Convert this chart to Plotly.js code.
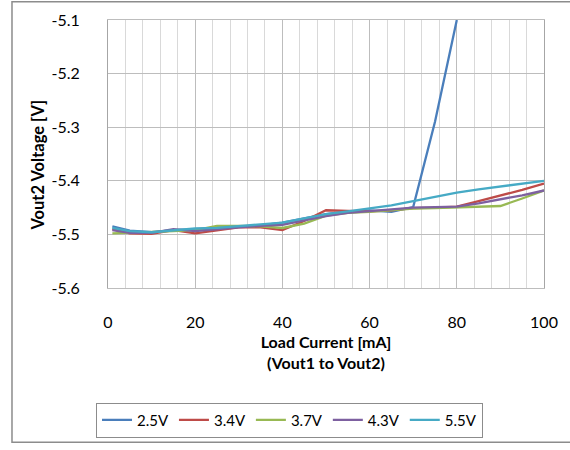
<!DOCTYPE html>
<html>
<head>
<meta charset="utf-8">
<script src="https://cdn.plot.ly/plotly-3.0.1.min.js"></script>
<style>
html,body{margin:0;padding:0;background:#fff;}
#chart{width:570px;height:450px;}
</style>
</head>
<body>
<div id="chart"></div>
<script>
// Load current [mA]
const loadCurrent = [1, 5, 10, 15, 20, 25, 30, 35, 40, 45, 50, 55, 60, 65, 70, 75, 80, 85, 90, 95, 100];
const loadCurrent25 = [1, 5, 10, 15, 20, 25, 30, 35, 40, 45, 50, 55, 60, 65, 70, 75, 80];

// Vout2 voltage [V] per supply voltage
const v25 = [-5.485, -5.493, -5.496, -5.492, -5.490, -5.489, -5.486, -5.483, -5.478, -5.470, -5.462, -5.457, -5.455, -5.458, -5.449, -5.290, -5.100];
const v34 = [-5.490, -5.498, -5.499, -5.492, -5.498, -5.492, -5.487, -5.487, -5.492, -5.475, -5.455, -5.456, -5.457, -5.455, -5.451, -5.450, -5.448, -5.438, -5.428, -5.417, -5.405];
const v37 = [-5.498, -5.497, -5.496, -5.494, -5.492, -5.484, -5.484, -5.485, -5.488, -5.480, -5.465, -5.460, -5.458, -5.455, -5.452, -5.451, -5.450, -5.449, -5.447, -5.433, -5.418];
const v43 = [-5.492, -5.497, -5.497, -5.490, -5.494, -5.490, -5.487, -5.484, -5.482, -5.474, -5.466, -5.460, -5.457, -5.453, -5.450, -5.449, -5.448, -5.442, -5.435, -5.427, -5.418];
const v55 = [-5.488, -5.494, -5.496, -5.493, -5.489, -5.488, -5.485, -5.482, -5.478, -5.470, -5.462, -5.457, -5.452, -5.446, -5.438, -5.430, -5.422, -5.416, -5.411, -5.406, -5.400];

const seriesNames = ['2.5V', '3.4V', '3.7V', '4.3V', '5.5V'];
const seriesColors = ['#4A7EBB', '#BE4B48', '#98B954', '#7D60A0', '#46AAC5'];

const xTickVals = [0, 20, 40, 60, 80, 100];
const yTickVals = [-5.6, -5.5, -5.4, -5.3, -5.2, -5.1];
const yTickText = ['-5.6', '-5.5', '-5.4', '-5.3', '-5.2', '-5.1'];

const xTitleText = '<b>Load Current [mA]</b><br><b>(Vout1 to Vout2)</b>';
const yTitleText = '<b>Vout2 Voltage [V]</b>';

const xs = [loadCurrent25, loadCurrent, loadCurrent, loadCurrent, loadCurrent];
const ys = [v25, v34, v37, v43, v55];

const FONT = 'Lato, "Noto Sans", "DejaVu Sans", sans-serif';

const traces = seriesNames.map((n, i) => ({
  type: 'scatter',
  mode: 'lines',
  name: n,
  x: xs[i],
  y: ys[i],
  line: {color: seriesColors[i], width: 2.3},
  cliponaxis: true
}));

const layout = {
  width: 570,
  height: 450,
  margin: {l: 108, r: 26, t: 20, b: 159},
  paper_bgcolor: '#ffffff',
  plot_bgcolor: '#ffffff',
  font: {family: FONT, color: '#000000', size: 15},
  showlegend: true,
  xaxis: {
    range: [0, 100],
    tickvals: xTickVals,
    ticks: '',
    ticklabelstandoff: 20,
    showgrid: true,
    gridcolor: '#bdbdbd',
    gridwidth: 1,
    minor: {dtick: 4, tick0: 0, showgrid: true, gridcolor: '#d9d9d9', gridwidth: 1, ticks: ''},
    zeroline: false,
    showline: true,
    linecolor: '#bdbdbd',
    linewidth: 1,
    mirror: true,
    tickfont: {family: FONT, size: 16, color: '#000'},
    title: {
      text: xTitleText,
      font: {family: FONT, size: 16, color: '#000'},
      standoff: 6
    },
    fixedrange: true
  },
  yaxis: {
    range: [-5.6, -5.1],
    tickvals: yTickVals,
    ticktext: yTickText,
    ticks: '',
    ticklabelstandoff: 24,
    showgrid: true,
    gridcolor: '#bdbdbd',
    gridwidth: 1,
    zeroline: false,
    showline: true,
    linecolor: '#a6a6a6',
    linewidth: 1,
    mirror: true,
    tickfont: {family: FONT, size: 16, color: '#000'},
    fixedrange: true
  },
  annotations: [{
    text: yTitleText,
    xref: 'paper', yref: 'paper',
    x: -0.16, y: 0.4576,
    xanchor: 'center', yanchor: 'middle',
    textangle: -90,
    showarrow: false,
    font: {family: FONT, size: 16.5, color: '#000'}
  }],
  legend: {
    orientation: 'h',
    x: -0.0275,
    xanchor: 'left',
    y: -0.428,
    yanchor: 'top',
    bordercolor: '#8c8c8c',
    borderwidth: 1,
    bgcolor: '#ffffff',
    font: {family: FONT, size: 15, color: '#000'},
    itemwidth: 30,
    traceorder: 'normal'
  },
  shapes: [{
    type: 'rect',
    xref: 'paper', yref: 'paper',
    x0: -0.2202, x1: 1.2,
    y0: -0.5756, y1: 1.068,
    line: {color: '#8c8c8c', width: 1.5},
    layer: 'below'
  }]
};

Plotly.newPlot('chart', traces, layout, {staticPlot: true, displayModeBar: false});
</script>
</body>
</html>
